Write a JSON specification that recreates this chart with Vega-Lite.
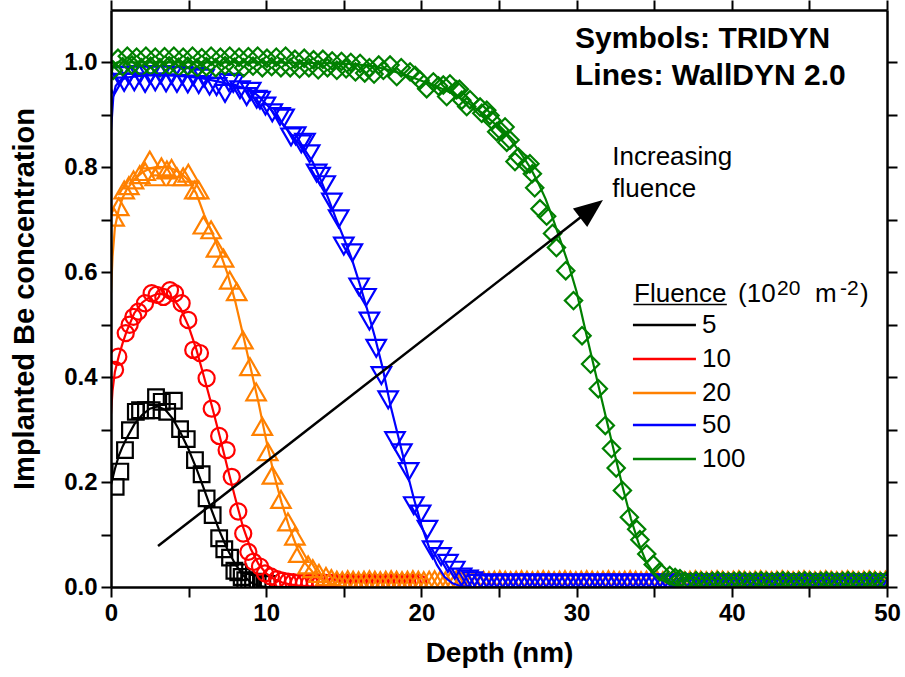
{
"$schema":"https://vega.github.io/schema/vega-lite/v6.json",
"width":776,"height":577,
"autosize":{"type":"none"},
"padding":{"left":111,"top":10,"right":18,"bottom":90},
"background":"white",
"config":{"view":{"stroke":null},"font":"Liberation Sans"},
"datasets":{
"sym":[
{"s":"5","x":0.3,"y":0.191},{"s":"5","x":0.6,"y":0.22},{"s":"5","x":0.9,"y":0.261},{"s":"5","x":1.22,"y":0.299},{"s":"5","x":1.6,"y":0.334},{"s":"5","x":1.87,"y":0.337},{"s":"5","x":2.25,"y":0.337},{"s":"5","x":2.62,"y":0.337},{"s":"5","x":2.9,"y":0.362},{"s":"5","x":3.27,"y":0.353},{"s":"5","x":3.62,"y":0.334},{"s":"5","x":4.05,"y":0.355},{"s":"5","x":4.45,"y":0.301},{"s":"5","x":4.88,"y":0.282},{"s":"5","x":5.41,"y":0.242},{"s":"5","x":5.84,"y":0.215},{"s":"5","x":6.16,"y":0.169},{"s":"5","x":6.55,"y":0.137},{"s":"5","x":6.97,"y":0.093},{"s":"5","x":7.3,"y":0.072},{"s":"5","x":7.67,"y":0.056},{"s":"5","x":7.95,"y":0.031},{"s":"5","x":8.2,"y":0.028},{"s":"5","x":8.42,"y":0.019},{"s":"5","x":8.65,"y":0.013},{"s":"5","x":8.9,"y":0.012},{"s":"5","x":9.15,"y":0.01},{"s":"5","x":9.45,"y":0.008},{"s":"5","x":9.75,"y":0.007},{"s":"5","x":10.05,"y":0.006},
{"s":"10","x":0.26,"y":0.414},{"s":"10","x":0.47,"y":0.439},{"s":"10","x":0.95,"y":0.484},{"s":"10","x":1.2,"y":0.5},{"s":"10","x":1.44,"y":0.515},{"s":"10","x":1.76,"y":0.525},{"s":"10","x":2.19,"y":0.541},{"s":"10","x":2.62,"y":0.56},{"s":"10","x":2.94,"y":0.557},{"s":"10","x":3.37,"y":0.553},{"s":"10","x":3.8,"y":0.566},{"s":"10","x":4.12,"y":0.56},{"s":"10","x":4.55,"y":0.541},{"s":"10","x":4.98,"y":0.509},{"s":"10","x":5.3,"y":0.452},{"s":"10","x":5.73,"y":0.446},{"s":"10","x":6.16,"y":0.398},{"s":"10","x":6.49,"y":0.34},{"s":"10","x":6.97,"y":0.288},{"s":"10","x":7.45,"y":0.261},{"s":"10","x":7.78,"y":0.21},{"s":"10","x":8.2,"y":0.144},{"s":"10","x":8.52,"y":0.102},{"s":"10","x":8.85,"y":0.067},{"s":"10","x":9.17,"y":0.048},{"s":"10","x":9.6,"y":0.039},{"s":"10","x":9.92,"y":0.026},{"s":"10","x":10.3,"y":0.02},{"s":"10","x":10.7,"y":0.015},{"s":"10","x":11.05,"y":0.012},{"s":"10","x":11.4,"y":0.01},{"s":"10","x":11.75,"y":0.009},{"s":"10","x":12.1,"y":0.008},{"s":"10","x":12.45,"y":0.008},{"s":"10","x":12.8,"y":0.008},{"s":"10","x":13.15,"y":0.008},{"s":"10","x":13.5,"y":0.008},{"s":"10","x":13.85,"y":0.008},{"s":"10","x":14.2,"y":0.008},{"s":"10","x":14.55,"y":0.008},{"s":"10","x":14.9,"y":0.008},{"s":"10","x":15.25,"y":0.008},{"s":"10","x":15.6,"y":0.008},{"s":"10","x":15.95,"y":0.008},{"s":"10","x":16.3,"y":0.008},{"s":"10","x":16.65,"y":0.008},{"s":"10","x":17,"y":0.008},{"s":"10","x":17.35,"y":0.008},{"s":"10","x":17.7,"y":0.008},{"s":"10","x":18.05,"y":0.008},{"s":"10","x":18.4,"y":0.008},{"s":"10","x":18.75,"y":0.008},{"s":"10","x":19.1,"y":0.008},{"s":"10","x":19.45,"y":0.008},{"s":"10","x":19.8,"y":0.008},
{"s":"20","x":0.2,"y":0.705},{"s":"20","x":0.5,"y":0.725},{"s":"20","x":0.85,"y":0.757},{"s":"20","x":1.15,"y":0.765},{"s":"20","x":1.45,"y":0.776},{"s":"20","x":1.85,"y":0.786},{"s":"20","x":2.2,"y":0.792},{"s":"20","x":2.5,"y":0.814},{"s":"20","x":2.85,"y":0.782},{"s":"20","x":3.25,"y":0.801},{"s":"20","x":3.6,"y":0.795},{"s":"20","x":3.9,"y":0.798},{"s":"20","x":4.25,"y":0.782},{"s":"20","x":4.65,"y":0.782},{"s":"20","x":4.98,"y":0.789},{"s":"20","x":5.4,"y":0.757},{"s":"20","x":5.65,"y":0.757},{"s":"20","x":5.95,"y":0.69},{"s":"20","x":6.45,"y":0.681},{"s":"20","x":6.8,"y":0.646},{"s":"20","x":7.25,"y":0.627},{"s":"20","x":7.65,"y":0.585},{"s":"20","x":8.1,"y":0.563},{"s":"20","x":8.5,"y":0.471},{"s":"20","x":8.95,"y":0.42},{"s":"20","x":9.35,"y":0.372},{"s":"20","x":9.75,"y":0.306},{"s":"20","x":10.1,"y":0.258},{"s":"20","x":10.4,"y":0.213},{"s":"20","x":10.95,"y":0.167},{"s":"20","x":11.4,"y":0.124},{"s":"20","x":11.85,"y":0.097},{"s":"20","x":12.1,"y":0.064},{"s":"20","x":12.7,"y":0.042},{"s":"20","x":13,"y":0.035},{"s":"20","x":13.4,"y":0.026},{"s":"20","x":13.85,"y":0.02},{"s":"20","x":14.2,"y":0.016},
{"s":"20","x":14.55,"y":0.013},{"s":"20","x":14.9,"y":0.012},{"s":"20","x":15.25,"y":0.014},{"s":"20","x":15.6,"y":0.013},{"s":"20","x":15.95,"y":0.012},{"s":"20","x":16.3,"y":0.013},{"s":"20","x":16.65,"y":0.014},{"s":"20","x":17,"y":0.013},{"s":"20","x":17.35,"y":0.012},{"s":"20","x":17.7,"y":0.013},{"s":"20","x":18.05,"y":0.014},{"s":"20","x":18.4,"y":0.013},{"s":"20","x":18.75,"y":0.012},{"s":"20","x":19.1,"y":0.013},{"s":"20","x":19.45,"y":0.014},{"s":"20","x":19.8,"y":0.013},{"s":"20","x":20.15,"y":0.012},{"s":"20","x":20.5,"y":0.013},{"s":"20","x":20.85,"y":0.014},{"s":"20","x":21.2,"y":0.013},{"s":"20","x":21.55,"y":0.012},{"s":"20","x":21.9,"y":0.013},{"s":"20","x":22.25,"y":0.014},{"s":"20","x":22.6,"y":0.013},{"s":"20","x":22.95,"y":0.012},{"s":"20","x":23.3,"y":0.013},{"s":"20","x":23.65,"y":0.014},{"s":"20","x":24,"y":0.013},{"s":"20","x":24.35,"y":0.012},{"s":"20","x":24.7,"y":0.013},{"s":"20","x":25.05,"y":0.014},{"s":"20","x":25.4,"y":0.013},{"s":"20","x":25.75,"y":0.012},{"s":"20","x":26.1,"y":0.013},{"s":"20","x":26.45,"y":0.014},{"s":"20","x":26.8,"y":0.013},{"s":"20","x":27.15,"y":0.012},{"s":"20","x":27.5,"y":0.013},{"s":"20","x":27.85,"y":0.014},{"s":"20","x":28.2,"y":0.013},{"s":"20","x":28.55,"y":0.012},{"s":"20","x":28.9,"y":0.013},{"s":"20","x":29.25,"y":0.014},{"s":"20","x":29.6,"y":0.013},{"s":"20","x":29.95,"y":0.012},{"s":"20","x":30.3,"y":0.013},{"s":"20","x":30.65,"y":0.014},{"s":"20","x":31,"y":0.013},{"s":"20","x":31.35,"y":0.012},{"s":"20","x":31.7,"y":0.013},{"s":"20","x":32.05,"y":0.014},{"s":"20","x":32.4,"y":0.013},{"s":"20","x":32.75,"y":0.012},{"s":"20","x":33.1,"y":0.013},{"s":"20","x":33.45,"y":0.014},{"s":"20","x":33.8,"y":0.013},{"s":"20","x":34.15,"y":0.012},{"s":"20","x":34.5,"y":0.013},{"s":"20","x":34.85,"y":0.014},{"s":"20","x":35.2,"y":0.013},{"s":"20","x":35.55,"y":0.012},{"s":"20","x":35.9,"y":0.013},{"s":"20","x":36.25,"y":0.014},{"s":"20","x":36.6,"y":0.013},{"s":"20","x":36.95,"y":0.012},{"s":"20","x":37.3,"y":0.013},{"s":"20","x":37.65,"y":0.014},{"s":"20","x":38,"y":0.013},{"s":"20","x":38.35,"y":0.012},{"s":"20","x":38.7,"y":0.013},{"s":"20","x":39.05,"y":0.014},{"s":"20","x":39.4,"y":0.013},{"s":"20","x":39.75,"y":0.012},{"s":"20","x":40.1,"y":0.013},{"s":"20","x":40.45,"y":0.014},{"s":"20","x":40.8,"y":0.013},{"s":"20","x":41.15,"y":0.012},{"s":"20","x":41.5,"y":0.013},{"s":"20","x":41.85,"y":0.014},{"s":"20","x":42.2,"y":0.013},{"s":"20","x":42.55,"y":0.012},{"s":"20","x":42.9,"y":0.013},{"s":"20","x":43.25,"y":0.014},{"s":"20","x":43.6,"y":0.013},{"s":"20","x":43.95,"y":0.012},{"s":"20","x":44.3,"y":0.013},{"s":"20","x":44.65,"y":0.014},{"s":"20","x":45,"y":0.013},{"s":"20","x":45.35,"y":0.012},{"s":"20","x":45.7,"y":0.013},{"s":"20","x":46.05,"y":0.014},{"s":"20","x":46.4,"y":0.013},{"s":"20","x":46.75,"y":0.012},{"s":"20","x":47.1,"y":0.013},{"s":"20","x":47.45,"y":0.014},{"s":"20","x":47.8,"y":0.013},{"s":"20","x":48.15,"y":0.012},{"s":"20","x":48.5,"y":0.013},{"s":"20","x":48.85,"y":0.014},{"s":"20","x":49.2,"y":0.013},{"s":"20","x":49.55,"y":0.012},{"s":"20","x":49.9,"y":0.013},
{"s":"50","x":0.2,"y":0.955},{"s":"50","x":0.5,"y":0.975},{"s":"50","x":0.85,"y":0.962},{"s":"50","x":1.15,"y":0.976},{"s":"50","x":1.5,"y":0.963},{"s":"50","x":1.85,"y":0.977},{"s":"50","x":2.2,"y":0.96},{"s":"50","x":2.5,"y":0.976},{"s":"50","x":2.85,"y":0.963},{"s":"50","x":3.2,"y":0.977},{"s":"50","x":3.55,"y":0.961},{"s":"50","x":3.9,"y":0.976},{"s":"50","x":4.25,"y":0.96},{"s":"50","x":4.6,"y":0.975},{"s":"50","x":4.95,"y":0.959},{"s":"50","x":5.3,"y":0.973},{"s":"50","x":5.65,"y":0.958},{"s":"50","x":6,"y":0.97},{"s":"50","x":6.35,"y":0.955},{"s":"50","x":6.8,"y":0.954},{"s":"50","x":7.35,"y":0.941},{"s":"50","x":7.6,"y":0.962},{"s":"50","x":7.88,"y":0.96},{"s":"50","x":8.31,"y":0.948},{"s":"50","x":8.74,"y":0.935},{"s":"50","x":9,"y":0.945},{"s":"50","x":9.39,"y":0.93},{"s":"50","x":9.6,"y":0.928},{"s":"50","x":9.95,"y":0.917},{"s":"50","x":10.39,"y":0.904},{"s":"50","x":10.89,"y":0.897},{"s":"50","x":11.15,"y":0.894},{"s":"50","x":11.6,"y":0.858},{"s":"50","x":11.9,"y":0.86},{"s":"50","x":12.26,"y":0.845},{"s":"50","x":12.5,"y":0.848},{"s":"50","x":12.8,"y":0.826},{"s":"50","x":13.25,"y":0.789},{"s":"50","x":13.47,"y":0.783},{"s":"50","x":13.8,"y":0.767},{"s":"50","x":14.23,"y":0.734},{"s":"50","x":14.67,"y":0.702},{"s":"50","x":15,"y":0.65},{"s":"50","x":15.55,"y":0.637},{"s":"50","x":15.99,"y":0.572},{"s":"50","x":16.43,"y":0.552},{"s":"50","x":16.65,"y":0.507},{"s":"50","x":17.09,"y":0.455},{"s":"50","x":17.42,"y":0.403},{"s":"50","x":17.86,"y":0.357},{"s":"50","x":18.3,"y":0.279},{"s":"50","x":18.74,"y":0.256},{"s":"50","x":19.18,"y":0.22},{"s":"50","x":19.51,"y":0.155},{"s":"50","x":19.95,"y":0.139},{"s":"50","x":20.39,"y":0.11},{"s":"50","x":20.72,"y":0.071},{"s":"50","x":21.27,"y":0.058},{"s":"50","x":21.71,"y":0.045},{"s":"50","x":22.15,"y":0.032},{"s":"50","x":22.59,"y":0.019},{"s":"50","x":23,"y":0.015},{"s":"50","x":23.3,"y":0.012},
{"s":"50","x":23.65,"y":0.007},{"s":"50","x":24,"y":0.006},{"s":"50","x":24.35,"y":0.008},{"s":"50","x":24.7,"y":0.007},{"s":"50","x":25.05,"y":0.006},{"s":"50","x":25.4,"y":0.007},{"s":"50","x":25.75,"y":0.008},{"s":"50","x":26.1,"y":0.007},{"s":"50","x":26.45,"y":0.006},{"s":"50","x":26.8,"y":0.007},{"s":"50","x":27.15,"y":0.008},{"s":"50","x":27.5,"y":0.007},{"s":"50","x":27.85,"y":0.006},{"s":"50","x":28.2,"y":0.007},{"s":"50","x":28.55,"y":0.008},{"s":"50","x":28.9,"y":0.007},{"s":"50","x":29.25,"y":0.006},{"s":"50","x":29.6,"y":0.007},{"s":"50","x":29.95,"y":0.008},{"s":"50","x":30.3,"y":0.007},{"s":"50","x":30.65,"y":0.006},{"s":"50","x":31,"y":0.007},{"s":"50","x":31.35,"y":0.008},{"s":"50","x":31.7,"y":0.007},{"s":"50","x":32.05,"y":0.006},{"s":"50","x":32.4,"y":0.007},{"s":"50","x":32.75,"y":0.008},{"s":"50","x":33.1,"y":0.007},{"s":"50","x":33.45,"y":0.006},{"s":"50","x":33.8,"y":0.007},{"s":"50","x":34.15,"y":0.008},{"s":"50","x":34.5,"y":0.007},{"s":"50","x":34.85,"y":0.006},{"s":"50","x":35.2,"y":0.007},{"s":"50","x":35.55,"y":0.008},{"s":"50","x":35.9,"y":0.007},{"s":"50","x":36.25,"y":0.006},{"s":"50","x":36.6,"y":0.007},{"s":"50","x":36.95,"y":0.008},{"s":"50","x":37.3,"y":0.007},{"s":"50","x":37.65,"y":0.006},{"s":"50","x":38,"y":0.007},{"s":"50","x":38.35,"y":0.008},{"s":"50","x":38.7,"y":0.007},{"s":"50","x":39.05,"y":0.006},{"s":"50","x":39.4,"y":0.007},{"s":"50","x":39.75,"y":0.008},{"s":"50","x":40.1,"y":0.007},{"s":"50","x":40.45,"y":0.006},{"s":"50","x":40.8,"y":0.007},{"s":"50","x":41.15,"y":0.008},{"s":"50","x":41.5,"y":0.007},{"s":"50","x":41.85,"y":0.006},{"s":"50","x":42.2,"y":0.007},{"s":"50","x":42.55,"y":0.008},{"s":"50","x":42.9,"y":0.007},{"s":"50","x":43.25,"y":0.006},{"s":"50","x":43.6,"y":0.007},{"s":"50","x":43.95,"y":0.008},{"s":"50","x":44.3,"y":0.007},{"s":"50","x":44.65,"y":0.006},{"s":"50","x":45,"y":0.007},{"s":"50","x":45.35,"y":0.008},{"s":"50","x":45.7,"y":0.007},{"s":"50","x":46.05,"y":0.006},{"s":"50","x":46.4,"y":0.007},{"s":"50","x":46.75,"y":0.008},{"s":"50","x":47.1,"y":0.007},{"s":"50","x":47.45,"y":0.006},{"s":"50","x":47.8,"y":0.007},{"s":"50","x":48.15,"y":0.008},{"s":"50","x":48.5,"y":0.007},{"s":"50","x":48.85,"y":0.006},{"s":"50","x":49.2,"y":0.007},{"s":"50","x":49.55,"y":0.008},{"s":"50","x":49.9,"y":0.007},
{"s":"100","x":0.15,"y":0.985},{"s":"100","x":0.45,"y":1.008},{"s":"100","x":0.75,"y":0.992},{"s":"100","x":1.05,"y":1.012},{"s":"100","x":1.35,"y":0.995},{"s":"100","x":1.65,"y":1.01},{"s":"100","x":1.95,"y":0.99},{"s":"100","x":2.25,"y":1.012},{"s":"100","x":2.55,"y":0.993},{"s":"100","x":2.85,"y":1.01},{"s":"100","x":3.15,"y":0.99},{"s":"100","x":3.45,"y":1.011},{"s":"100","x":3.75,"y":0.994},{"s":"100","x":4.05,"y":1.012},{"s":"100","x":4.35,"y":0.991},{"s":"100","x":4.65,"y":1.01},{"s":"100","x":4.95,"y":0.993},{"s":"100","x":5.25,"y":1.012},{"s":"100","x":5.55,"y":0.99},{"s":"100","x":5.85,"y":1.009},{"s":"100","x":6.15,"y":0.992},{"s":"100","x":6.45,"y":1.012},{"s":"100","x":6.75,"y":0.99},{"s":"100","x":7.05,"y":1.01},{"s":"100","x":7.35,"y":0.994},{"s":"100","x":7.65,"y":1.012},{"s":"100","x":7.95,"y":0.991},{"s":"100","x":8.25,"y":1.01},{"s":"100","x":8.55,"y":0.99},{"s":"100","x":8.85,"y":1.011},{"s":"100","x":9.15,"y":0.993},{"s":"100","x":9.45,"y":1.012},{"s":"100","x":9.75,"y":0.99},{"s":"100","x":10.05,"y":1.008},{"s":"100","x":10.35,"y":0.992},{"s":"100","x":10.65,"y":1.01},{"s":"100","x":10.95,"y":0.99},{"s":"100","x":11.25,"y":1.012},{"s":"100","x":11.55,"y":0.99},{"s":"100","x":11.85,"y":1.006},{"s":"100","x":12.15,"y":0.988},{"s":"100","x":12.45,"y":1.008},{"s":"100","x":12.75,"y":0.99},{"s":"100","x":13.05,"y":1.005},{"s":"100","x":13.35,"y":0.986},{"s":"100","x":13.65,"y":1.006},{"s":"100","x":13.95,"y":0.99},{"s":"100","x":14.25,"y":1.003},{"s":"100","x":14.55,"y":0.985},{"s":"100","x":14.85,"y":1.002},{"s":"100","x":15.15,"y":0.988},{"s":"100","x":15.45,"y":1.0},{"s":"100","x":15.75,"y":0.982},{"s":"100","x":16.05,"y":0.998},{"s":"100","x":16.35,"y":0.98},{"s":"100","x":16.65,"y":0.99},{"s":"100","x":16.95,"y":0.978},{"s":"100","x":17.25,"y":0.995},{"s":"100","x":17.55,"y":0.985},
{"s":"100","x":17.98,"y":0.995},{"s":"100","x":18.41,"y":0.973},{"s":"100","x":18.7,"y":0.99},{"s":"100","x":19.27,"y":0.982},{"s":"100","x":19.6,"y":0.975},{"s":"100","x":19.91,"y":0.966},{"s":"100","x":20.34,"y":0.95},{"s":"100","x":20.77,"y":0.963},{"s":"100","x":21.1,"y":0.955},{"s":"100","x":21.41,"y":0.957},{"s":"100","x":21.63,"y":0.935},{"s":"100","x":21.84,"y":0.959},{"s":"100","x":22.27,"y":0.948},{"s":"100","x":22.45,"y":0.949},{"s":"100","x":22.6,"y":0.928},{"s":"100","x":22.92,"y":0.916},{"s":"100","x":23.13,"y":0.929},{"s":"100","x":23.78,"y":0.915},{"s":"100","x":23.89,"y":0.903},{"s":"100","x":24.21,"y":0.909},{"s":"100","x":24.42,"y":0.899},{"s":"100","x":24.53,"y":0.89},{"s":"100","x":24.85,"y":0.868},{"s":"100","x":25.06,"y":0.871},{"s":"100","x":25.39,"y":0.877},{"s":"100","x":25.5,"y":0.848},{"s":"100","x":25.71,"y":0.852},{"s":"100","x":26.03,"y":0.811},{"s":"100","x":26.24,"y":0.82},{"s":"100","x":26.78,"y":0.805},{"s":"100","x":26.99,"y":0.807},{"s":"100","x":27.15,"y":0.788},{"s":"100","x":27.3,"y":0.761},{"s":"100","x":27.64,"y":0.721},{"s":"100","x":28.07,"y":0.707},{"s":"100","x":28.45,"y":0.674},{"s":"100","x":28.7,"y":0.647},{"s":"100","x":29.3,"y":0.603},{"s":"100","x":29.8,"y":0.546},{"s":"100","x":30.35,"y":0.479},{"s":"100","x":30.9,"y":0.425},{"s":"100","x":31.4,"y":0.378},{"s":"100","x":31.85,"y":0.308},{"s":"100","x":32.25,"y":0.264},{"s":"100","x":32.55,"y":0.227},{"s":"100","x":32.95,"y":0.184},{"s":"100","x":33.4,"y":0.133},{"s":"100","x":33.87,"y":0.11},{"s":"100","x":34.08,"y":0.09},{"s":"100","x":34.52,"y":0.063},{"s":"100","x":34.94,"y":0.043},{"s":"100","x":35.37,"y":0.029},{"s":"100","x":36,"y":0.022},{"s":"100","x":36.35,"y":0.018},{"s":"100","x":36.66,"y":0.016},
{"s":"100","x":37,"y":0.011},{"s":"100","x":37.35,"y":0.01},{"s":"100","x":37.7,"y":0.012},{"s":"100","x":38.05,"y":0.011},{"s":"100","x":38.4,"y":0.01},{"s":"100","x":38.75,"y":0.011},{"s":"100","x":39.1,"y":0.012},{"s":"100","x":39.45,"y":0.011},{"s":"100","x":39.8,"y":0.01},{"s":"100","x":40.15,"y":0.011},{"s":"100","x":40.5,"y":0.012},{"s":"100","x":40.85,"y":0.011},{"s":"100","x":41.2,"y":0.01},{"s":"100","x":41.55,"y":0.011},{"s":"100","x":41.9,"y":0.012},{"s":"100","x":42.25,"y":0.011},{"s":"100","x":42.6,"y":0.01},{"s":"100","x":42.95,"y":0.011},{"s":"100","x":43.3,"y":0.012},{"s":"100","x":43.65,"y":0.011},{"s":"100","x":44,"y":0.01},{"s":"100","x":44.35,"y":0.011},{"s":"100","x":44.7,"y":0.012},{"s":"100","x":45.05,"y":0.011},{"s":"100","x":45.4,"y":0.01},{"s":"100","x":45.75,"y":0.011},{"s":"100","x":46.1,"y":0.012},{"s":"100","x":46.45,"y":0.011},{"s":"100","x":46.8,"y":0.01},{"s":"100","x":47.15,"y":0.011},{"s":"100","x":47.5,"y":0.012},{"s":"100","x":47.85,"y":0.011},{"s":"100","x":48.2,"y":0.01},{"s":"100","x":48.55,"y":0.011},{"s":"100","x":48.9,"y":0.012},{"s":"100","x":49.25,"y":0.011},{"s":"100","x":49.6,"y":0.01},{"s":"100","x":49.95,"y":0.011}
],
"line":[
{"s":"5","x":0,"y":0.195},{"s":"5","x":0.25,"y":0.225},{"s":"5","x":0.5,"y":0.25},{"s":"5","x":0.75,"y":0.268},{"s":"5","x":1,"y":0.283},{"s":"5","x":1.5,"y":0.31},{"s":"5","x":2,"y":0.328},{"s":"5","x":2.5,"y":0.34},{"s":"5","x":3,"y":0.344},{"s":"5","x":3.5,"y":0.338},{"s":"5","x":4,"y":0.32},{"s":"5","x":4.5,"y":0.293},{"s":"5","x":5,"y":0.262},{"s":"5","x":5.5,"y":0.226},{"s":"5","x":6,"y":0.186},{"s":"5","x":6.5,"y":0.145},{"s":"5","x":7,"y":0.106},{"s":"5","x":7.5,"y":0.072},{"s":"5","x":8,"y":0.044},{"s":"5","x":8.5,"y":0.023},{"s":"5","x":9,"y":0.009},{"s":"5","x":9.5,"y":0.002},{"s":"5","x":10,"y":0},{"s":"5","x":50,"y":0},
{"s":"10","x":0,"y":0.33},{"s":"10","x":0.1,"y":0.375},{"s":"10","x":0.25,"y":0.41},{"s":"10","x":0.5,"y":0.44},{"s":"10","x":0.75,"y":0.465},{"s":"10","x":1,"y":0.487},{"s":"10","x":1.5,"y":0.522},{"s":"10","x":2,"y":0.542},{"s":"10","x":2.5,"y":0.553},{"s":"10","x":3,"y":0.559},{"s":"10","x":3.5,"y":0.558},{"s":"10","x":4,"y":0.55},{"s":"10","x":4.5,"y":0.53},{"s":"10","x":5,"y":0.497},{"s":"10","x":5.5,"y":0.453},{"s":"10","x":6,"y":0.4},{"s":"10","x":6.5,"y":0.345},{"s":"10","x":7,"y":0.288},{"s":"10","x":7.5,"y":0.228},{"s":"10","x":8,"y":0.17},{"s":"10","x":8.5,"y":0.115},{"s":"10","x":9,"y":0.073},{"s":"10","x":9.5,"y":0.044},{"s":"10","x":10,"y":0.026},{"s":"10","x":10.5,"y":0.015},{"s":"10","x":11,"y":0.009},{"s":"10","x":11.5,"y":0.005},{"s":"10","x":12,"y":0.003},{"s":"10","x":13,"y":0.001},{"s":"10","x":14,"y":0},{"s":"10","x":50,"y":0},
{"s":"20","x":0,"y":0.56},{"s":"20","x":0.1,"y":0.63},{"s":"20","x":0.25,"y":0.685},{"s":"20","x":0.5,"y":0.72},{"s":"20","x":0.75,"y":0.742},{"s":"20","x":1,"y":0.757},{"s":"20","x":1.5,"y":0.777},{"s":"20","x":2,"y":0.79},{"s":"20","x":2.5,"y":0.798},{"s":"20","x":3,"y":0.801},{"s":"20","x":3.5,"y":0.8},{"s":"20","x":4,"y":0.797},{"s":"20","x":4.5,"y":0.789},{"s":"20","x":5,"y":0.775},{"s":"20","x":5.5,"y":0.75},{"s":"20","x":6,"y":0.71},{"s":"20","x":6.5,"y":0.676},{"s":"20","x":7,"y":0.64},{"s":"20","x":7.5,"y":0.598},{"s":"20","x":8,"y":0.545},{"s":"20","x":8.5,"y":0.482},{"s":"20","x":9,"y":0.417},{"s":"20","x":9.5,"y":0.352},{"s":"20","x":10,"y":0.28},{"s":"20","x":10.5,"y":0.215},{"s":"20","x":11,"y":0.16},{"s":"20","x":11.5,"y":0.113},{"s":"20","x":12,"y":0.074},{"s":"20","x":12.5,"y":0.046},{"s":"20","x":13,"y":0.028},{"s":"20","x":13.5,"y":0.016},{"s":"20","x":14,"y":0.008},{"s":"20","x":14.5,"y":0.004},{"s":"20","x":15,"y":0.001},{"s":"20","x":16,"y":0},{"s":"20","x":50,"y":0},
{"s":"50","x":0,"y":0.87},{"s":"50","x":0.15,"y":0.935},{"s":"50","x":0.3,"y":0.955},{"s":"50","x":0.6,"y":0.966},{"s":"50","x":1,"y":0.971},{"s":"50","x":2,"y":0.975},{"s":"50","x":3,"y":0.976},{"s":"50","x":4,"y":0.975},{"s":"50","x":5,"y":0.973},{"s":"50","x":6,"y":0.969},{"s":"50","x":7,"y":0.963},{"s":"50","x":8,"y":0.956},{"s":"50","x":9,"y":0.948},{"s":"50","x":9.5,"y":0.936},{"s":"50","x":10,"y":0.921},{"s":"50","x":10.5,"y":0.903},{"s":"50","x":11,"y":0.885},{"s":"50","x":11.5,"y":0.867},{"s":"50","x":12,"y":0.849},{"s":"50","x":12.5,"y":0.833},{"s":"50","x":13,"y":0.81},{"s":"50","x":13.5,"y":0.777},{"s":"50","x":14,"y":0.741},{"s":"50","x":14.5,"y":0.702},{"s":"50","x":15,"y":0.665},{"s":"50","x":15.5,"y":0.627},{"s":"50","x":16,"y":0.58},{"s":"50","x":16.5,"y":0.53},{"s":"50","x":17,"y":0.477},{"s":"50","x":17.5,"y":0.418},{"s":"50","x":18,"y":0.347},{"s":"50","x":18.5,"y":0.288},{"s":"50","x":19,"y":0.228},{"s":"50","x":19.5,"y":0.17},{"s":"50","x":20,"y":0.118},{"s":"50","x":20.5,"y":0.075},{"s":"50","x":21,"y":0.042},{"s":"50","x":21.5,"y":0.019},{"s":"50","x":22,"y":0.007},{"s":"50","x":22.5,"y":0.002},{"s":"50","x":23,"y":0},{"s":"50","x":50,"y":0},
{"s":"100","x":0,"y":0.975},{"s":"100","x":0.15,"y":0.995},{"s":"100","x":0.4,"y":1.0},{"s":"100","x":5,"y":1.0},{"s":"100","x":10,"y":1.0},{"s":"100","x":13,"y":0.999},{"s":"100","x":15,"y":0.998},{"s":"100","x":16,"y":0.996},{"s":"100","x":17,"y":0.992},{"s":"100","x":18,"y":0.985},{"s":"100","x":19,"y":0.976},{"s":"100","x":20,"y":0.965},{"s":"100","x":21,"y":0.954},{"s":"100","x":22,"y":0.941},{"s":"100","x":23,"y":0.923},{"s":"100","x":24,"y":0.902},{"s":"100","x":25,"y":0.876},{"s":"100","x":25.5,"y":0.861},{"s":"100","x":26,"y":0.843},{"s":"100","x":26.5,"y":0.823},{"s":"100","x":27,"y":0.8},{"s":"100","x":27.5,"y":0.772},{"s":"100","x":28,"y":0.74},{"s":"100","x":28.5,"y":0.7},{"s":"100","x":29,"y":0.657},{"s":"100","x":29.5,"y":0.613},{"s":"100","x":30,"y":0.563},{"s":"100","x":30.5,"y":0.498},{"s":"100","x":31,"y":0.435},{"s":"100","x":31.5,"y":0.372},{"s":"100","x":32,"y":0.31},{"s":"100","x":32.5,"y":0.248},{"s":"100","x":33,"y":0.187},{"s":"100","x":33.5,"y":0.13},{"s":"100","x":34,"y":0.083},{"s":"100","x":34.5,"y":0.047},{"s":"100","x":35,"y":0.026},{"s":"100","x":35.5,"y":0.013},{"s":"100","x":36,"y":0.006},{"s":"100","x":36.5,"y":0.002},{"s":"100","x":37,"y":0},{"s":"100","x":50,"y":0}
],
"leg":[{"s":"5","y":0.4995},{"s":"10","y":0.4347},{"s":"20","y":0.3699},{"s":"50","y":0.3089},{"s":"100","y":0.244}]
},
"layer":[
{"data":{"name":"sym"},"transform":[{"filter":"datum.s === '5'"}],
 "mark":{"type":"point","shape":"square","size":245,"filled":false,"strokeWidth":2.2,"color":"#000000","opacity":1,"clip":true},
 "encoding":{
  "x":{"field":"x","type":"quantitative","scale":{"domain":[0,50],"nice":false,"zero":false},
   "axis":{"orient":"bottom","values":[0,5,10,15,20,25,30,35,40,45,50],"labelExpr":"datum.value % 10 === 0 ? datum.label : ''","grid":false,"title":"Depth (nm)","zindex":1,
    "domainColor":"#000","domainWidth":2.5,"tickColor":"#000","tickWidth":2,"tickSize":10,
    "labelFont":"Liberation Sans","labelFontSize":24,"labelFontWeight":"bold","labelColor":"#000","labelPadding":4,"labelOverlap":false,"labelFlush":false,
    "titleFont":"Liberation Sans","titleFontSize":28,"titleFontWeight":"bold","titleColor":"#000","titlePadding":14,
    "encode":{"ticks":{"update":{"y2":{"signal":"datum.value % 10 === 0 ? 10 : 6"}}}}}},
  "y":{"field":"y","type":"quantitative","scale":{"domain":[0,1.1],"nice":false,"zero":false},
   "axis":{"orient":"left","values":[0,0.1,0.2,0.3,0.4,0.5,0.6,0.7,0.8,0.9,1.0],"format":".1f","labelExpr":"round(datum.value*10) % 2 === 0 ? datum.label : ''","grid":false,"title":"Implanted Be concentration","zindex":1,
    "domainColor":"#000","domainWidth":2.5,"tickColor":"#000","tickWidth":2,"tickSize":10,
    "labelFont":"Liberation Sans","labelFontSize":24,"labelFontWeight":"bold","labelColor":"#000","labelPadding":4,"labelOverlap":false,"labelFlush":false,
    "titleFont":"Liberation Sans","titleFontSize":29,"titleFontWeight":"bold","titleColor":"#000","titlePadding":24,
    "encode":{"ticks":{"update":{"x2":{"signal":"round(datum.value*10) % 2 === 0 ? -10 : -6"}}}}}}
 }},
{"data":{"name":"sym"},"transform":[{"filter":"datum.s === '10'"}],
 "mark":{"type":"point","shape":"circle","size":260,"filled":false,"strokeWidth":2.2,"color":"#ff0000","opacity":1,"clip":true},
 "encoding":{"x":{"field":"x","type":"quantitative","scale":{"domain":[0,50],"nice":false},"axis":null},"y":{"field":"y","type":"quantitative","scale":{"domain":[0,1.1],"nice":false},"axis":null}}},
{"data":{"name":"sym"},"transform":[{"filter":"datum.s === '20'"}],
 "mark":{"type":"point","shape":"triangle-up","size":380,"filled":false,"strokeWidth":2.2,"color":"#ff8000","opacity":1,"clip":true},
 "encoding":{"x":{"field":"x","type":"quantitative","scale":{"domain":[0,50],"nice":false},"axis":null},"y":{"field":"y","type":"quantitative","scale":{"domain":[0,1.1],"nice":false},"axis":null}}},
{"data":{"name":"sym"},"transform":[{"filter":"datum.s === '50'"}],
 "mark":{"type":"point","shape":"triangle-down","size":380,"filled":false,"strokeWidth":2.2,"color":"#0000ff","opacity":1,"clip":true},
 "encoding":{"x":{"field":"x","type":"quantitative","scale":{"domain":[0,50],"nice":false},"axis":null},"y":{"field":"y","type":"quantitative","scale":{"domain":[0,1.1],"nice":false},"axis":null}}},
{"data":{"name":"sym"},"transform":[{"filter":"datum.s === '100'"}],
 "mark":{"type":"point","shape":"diamond","size":300,"filled":false,"strokeWidth":2.2,"color":"#008000","opacity":1,"clip":true},
 "encoding":{"x":{"field":"x","type":"quantitative","scale":{"domain":[0,50],"nice":false},"axis":null},"y":{"field":"y","type":"quantitative","scale":{"domain":[0,1.1],"nice":false},"axis":null}}},
{"data":{"name":"line"},
 "mark":{"type":"line","strokeWidth":2.2,"clip":true},
 "encoding":{
  "x":{"field":"x","type":"quantitative","scale":{"domain":[0,50],"nice":false},
   "axis":{"orient":"top","values":[0,5,10,15,20,25,30,35,40,45,50],"labels":false,"title":null,"grid":false,"zindex":1,"domainColor":"#000","domainWidth":2.5,"tickColor":"#000","tickWidth":2,"tickSize":10,
    "encode":{"ticks":{"update":{"y2":{"signal":"datum.value % 10 === 0 ? 10 : 6"}}}}}},
  "y":{"field":"y","type":"quantitative","scale":{"domain":[0,1.1],"nice":false},
   "axis":{"orient":"right","values":[0,0.1,0.2,0.3,0.4,0.5,0.6,0.7,0.8,0.9,1.0],"labels":false,"title":null,"grid":false,"zindex":1,"domainColor":"#000","domainWidth":2.5,"tickColor":"#000","tickWidth":2,"tickSize":10,
    "encode":{"ticks":{"update":{"x2":{"signal":"round(datum.value*10) % 2 === 0 ? -11 : -6"}}}}}},
  "color":{"field":"s","type":"nominal","scale":{"domain":["5","10","20","50","100"],"range":["#000000","#ff0000","#ff8000","#0000ff","#008000"]},"legend":null}
 }},
{"data":{"name":"leg"},
 "mark":{"type":"rule","strokeWidth":2.5},
 "encoding":{"x":{"datum":33.63,"type":"quantitative","axis":null},"x2":{"datum":37.69},"y":{"field":"y","type":"quantitative","axis":null},
  "color":{"field":"s","type":"nominal","scale":{"domain":["5","10","20","50","100"],"range":["#000000","#ff0000","#ff8000","#0000ff","#008000"]},"legend":null}}},
{"data":{"name":"leg"},
 "mark":{"type":"text","font":"Liberation Sans","fontSize":26,"align":"left","baseline":"middle","color":"#000"},
 "encoding":{"x":{"datum":38.08,"type":"quantitative","axis":null},"y":{"field":"y","type":"quantitative","axis":null},"text":{"field":"s"}}},
{"data":{"values":[{}]},"mark":{"type":"text","text":"Symbols: TRIDYN","font":"Liberation Sans","fontSize":30,"fontWeight":"bold","align":"left","baseline":"alphabetic","color":"#000"},
 "encoding":{"x":{"datum":29.9,"type":"quantitative","axis":null},"y":{"datum":1.0276,"type":"quantitative","axis":null}}},
{"data":{"values":[{}]},"mark":{"type":"text","text":"Lines: WallDYN 2.0","font":"Liberation Sans","fontSize":30,"fontWeight":"bold","align":"left","baseline":"alphabetic","color":"#000"},
 "encoding":{"x":{"datum":29.9,"type":"quantitative","axis":null},"y":{"datum":0.957,"type":"quantitative","axis":null}}},
{"data":{"values":[{}]},"mark":{"type":"text","text":"Increasing","font":"Liberation Sans","fontSize":26,"align":"left","baseline":"alphabetic","color":"#000"},
 "encoding":{"x":{"datum":32.3,"type":"quantitative","axis":null},"y":{"datum":0.8046,"type":"quantitative","axis":null}}},
{"data":{"values":[{}]},"mark":{"type":"text","text":"fluence","font":"Liberation Sans","fontSize":26,"align":"left","baseline":"alphabetic","color":"#000"},
 "encoding":{"x":{"datum":32.3,"type":"quantitative","axis":null},"y":{"datum":0.7436,"type":"quantitative","axis":null}}},
{"data":{"values":[{}]},"mark":{"type":"text","text":"Fluence","font":"Liberation Sans","fontSize":26,"align":"left","baseline":"alphabetic","color":"#000"},
 "encoding":{"x":{"datum":33.7,"type":"quantitative","axis":null},"y":{"datum":0.5434,"type":"quantitative","axis":null}}},
{"data":{"values":[{}]},"mark":{"type":"rule","strokeWidth":1.5,"color":"#000"},
 "encoding":{"x":{"datum":33.66,"type":"quantitative","axis":null},"x2":{"datum":39.68},"y":{"datum":0.5386,"type":"quantitative","axis":null}}},
{"data":{"values":[{}]},"mark":{"type":"text","text":"(10","font":"Liberation Sans","fontSize":26,"align":"left","baseline":"alphabetic","color":"#000"},
 "encoding":{"x":{"datum":40.4,"type":"quantitative","axis":null},"y":{"datum":0.5434,"type":"quantitative","axis":null}}},
{"data":{"values":[{}]},"mark":{"type":"text","text":"20","font":"Liberation Sans","fontSize":21,"align":"left","baseline":"alphabetic","color":"#000"},
 "encoding":{"x":{"datum":42.91,"type":"quantitative","axis":null},"y":{"datum":0.556,"type":"quantitative","axis":null}}},
{"data":{"values":[{}]},"mark":{"type":"text","text":"m","font":"Liberation Sans","fontSize":26,"align":"left","baseline":"alphabetic","color":"#000"},
 "encoding":{"x":{"datum":45.36,"type":"quantitative","axis":null},"y":{"datum":0.5434,"type":"quantitative","axis":null}}},
{"data":{"values":[{}]},"mark":{"type":"text","text":"-2","font":"Liberation Sans","fontSize":21,"align":"left","baseline":"alphabetic","color":"#000"},
 "encoding":{"x":{"datum":46.97,"type":"quantitative","axis":null},"y":{"datum":0.556,"type":"quantitative","axis":null}}},
{"data":{"values":[{}]},"mark":{"type":"text","text":")","font":"Liberation Sans","fontSize":26,"align":"left","baseline":"alphabetic","color":"#000"},
 "encoding":{"x":{"datum":48.26,"type":"quantitative","axis":null},"y":{"datum":0.5434,"type":"quantitative","axis":null}}},
{"data":{"values":[{}]},"mark":{"type":"rule","strokeWidth":2.5,"color":"#000"},
 "encoding":{"x":{"datum":3.03,"type":"quantitative","axis":null},"y":{"datum":0.078,"type":"quantitative","axis":null},"x2":{"datum":30.96},"y2":{"datum":0.7209}}},
{"data":{"values":[{}]},"mark":{"type":"point","shape":"M1,0L-1,-0.8L-1,0.8Z","filled":true,"color":"#000","size":841,"angle":322.1,"opacity":1,"strokeWidth":0},
 "encoding":{"x":{"datum":30.96,"type":"quantitative","axis":null},"y":{"datum":0.7209,"type":"quantitative","axis":null}}}
],
"resolve":{"axis":{"x":"independent","y":"independent"}}
}
